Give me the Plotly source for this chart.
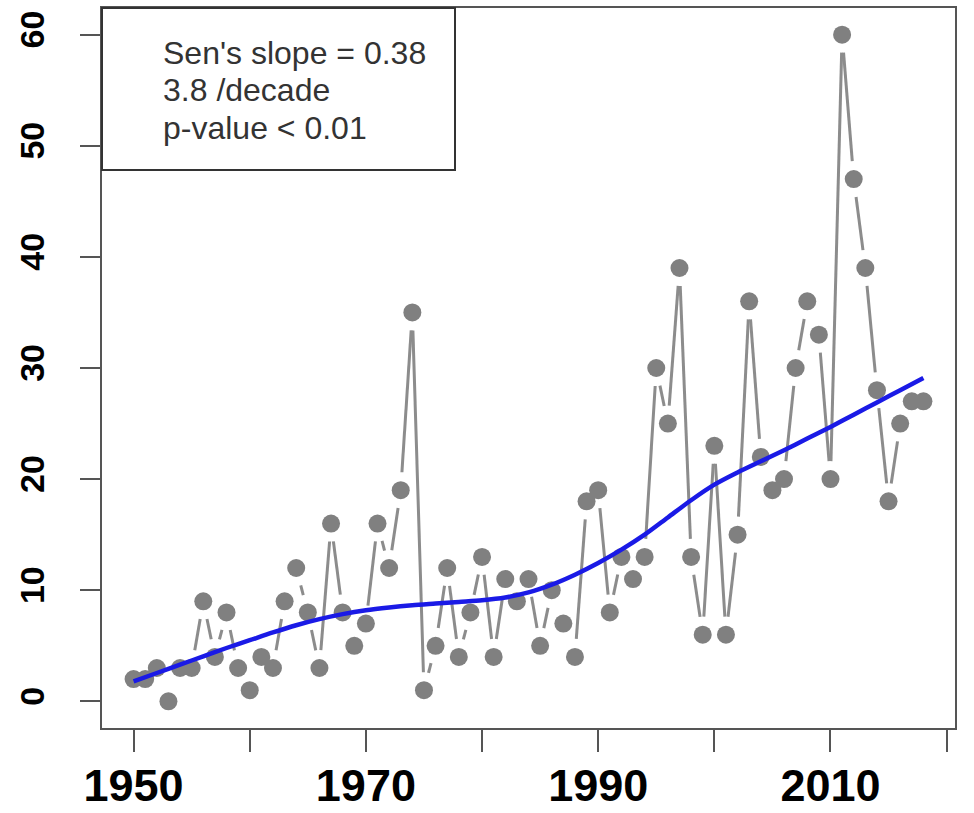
import plotly.graph_objects as go
import numpy as np

# ---- data ----
years = list(range(1950, 2019))
values = [2, 2, 3, 0, 3, 3, 9, 4, 8, 3,
          1, 4, 3, 9, 12, 8, 3, 16, 8, 5,
          7, 16, 12, 19, 35, 1, 5, 12, 4, 8,
          13, 4, 11, 9, 11, 5, 10, 7, 4, 18,
          19, 8, 13, 11, 13, 30, 25, 39, 13, 6,
          23, 6, 15, 36, 22, 19, 20, 30, 36, 33,
          20, 60, 47, 39, 28, 18, 25, 27, 27]

smooth_years = list(range(1950, 2019, 2))
smooth_values = [1.8, 2.55, 3.3, 4.05, 4.8, 5.5, 6.2, 6.85, 7.4, 7.85,
                 8.2, 8.45, 8.65, 8.8, 8.95, 9.1, 9.35, 9.8, 10.5, 11.4,
                 12.45, 13.65, 15.0, 16.55, 18.1, 19.5, 20.6, 21.6, 22.6, 23.65,
                 24.7, 25.8, 26.9, 28.0, 29.1]

x_ticks = [1950, 1960, 1970, 1980, 1990, 2000, 2010, 2020]
x_ticklabels = ["1950", "", "1970", "", "1990", "", "2010", ""]
y_ticks = [0, 10, 20, 30, 40, 50, 60]

legend_lines = ["Sen's slope = 0.38", "3.8 /decade", "p-value < 0.01"]

# ---- layout geometry ----
W, H = 974, 813
ML, MR, MT, MB = 102, 19, 8, 85
xr = [min(years) - 0.04 * (max(years) - min(years)), max(years) + 0.04 * (max(years) - min(years))]
yr = [min(values) - 0.04 * (max(values) - min(values)), max(values) + 0.04 * (max(values) - min(values))]
pw, ph = W - ML - MR, H - MT - MB
sx = pw / (xr[1] - xr[0])
sy = ph / (yr[1] - yr[0])

# R type="b": segments with gaps around points
gap = 18.0
seg_x, seg_y = [], []
for i in range(len(years) - 1):
    x0, y0, x1, y1 = years[i], values[i], years[i + 1], values[i + 1]
    dx, dy = (x1 - x0) * sx, (y1 - y0) * sy
    L = np.hypot(dx, dy)
    if L <= 2 * gap:
        continue
    f = gap / L
    seg_x += [x0 + (x1 - x0) * f, x1 - (x1 - x0) * f, None]
    seg_y += [y0 + (y1 - y0) * f, y1 - (y1 - y0) * f, None]

fig = go.Figure()
fig.add_trace(go.Scatter(x=seg_x, y=seg_y, mode="lines",
                         line=dict(color="#8c8c8c", width=3),
                         hoverinfo="skip", showlegend=False))
fig.add_trace(go.Scatter(x=years, y=values, mode="markers",
                         marker=dict(color="#808080", size=18, line=dict(width=0)),
                         showlegend=False))
fig.add_trace(go.Scatter(x=smooth_years, y=smooth_values, mode="lines",
                         line=dict(color="#1a1ae6", width=4.5, shape="spline", smoothing=0.8),
                         showlegend=False))

fig.update_layout(
    width=W, height=H,
    margin=dict(l=ML, r=MR, t=MT, b=MB, autoexpand=False),
    paper_bgcolor="white", plot_bgcolor="white",
    font=dict(family="Liberation Sans, Arial, sans-serif", color="black"),
    xaxis=dict(range=xr, tickvals=x_ticks, ticktext=x_ticklabels, automargin=False,
               ticks="outside", ticklen=22, tickwidth=2, tickcolor="#555",
               showgrid=False, zeroline=False,
               showline=True, mirror=True, linecolor="#555", linewidth=2,
               tickfont=dict(size=45, family="Liberation Sans, Arial", color="black", weight="bold"),
               ticklabelstandoff=-5),
    yaxis=dict(range=yr, tickvals=y_ticks, automargin=False,
               ticks="outside", ticklen=20, tickwidth=2, tickcolor="#555",
               showgrid=False, zeroline=False,
               showline=True, mirror=True, linecolor="#555", linewidth=2,
               tickangle=-90,
               tickfont=dict(size=34, family="Liberation Sans, Arial", color="black", weight="bold"),
               ticklabelstandoff=22),
)

# legend box
box_x1 = (455 - ML) / pw
box_y0 = (H - MB - 170) / ph
fig.add_shape(type="rect", xref="paper", yref="paper",
              x0=0, x1=box_x1, y0=box_y0, y1=1,
              line=dict(color="#333", width=2), fillcolor="white", layer="above")
line_y = [(H - MB - 53) / ph, (H - MB - 90) / ph, (H - MB - 128) / ph]
for txt, yy in zip(legend_lines, line_y):
    fig.add_annotation(x=(161 - ML) / pw, y=yy, xref="paper", yref="paper",
                       text=txt, showarrow=False, xanchor="left", yanchor="middle",
                       font=dict(size=32, color="#333", family="Liberation Sans, Arial"))

fig.write_html("out.html")
